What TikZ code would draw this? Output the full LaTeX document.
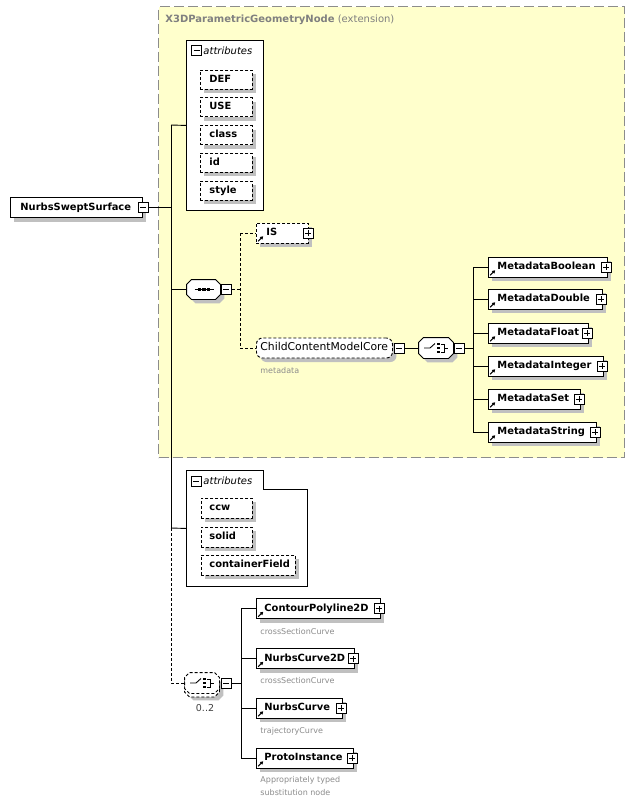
\documentclass[tikz,border=0pt]{standalone}
\usepackage{fontspec}
\setmainfont{DejaVu Sans}
\usetikzlibrary{shadows,arrows.meta}
\definecolor{shadowgray}{HTML}{C0C0C0}
\definecolor{extyellow}{HTML}{FFFFCC}
\definecolor{extborder}{HTML}{8C8C8C}
\definecolor{labelgray}{HTML}{8C8C8C}
\definecolor{titlegray}{HTML}{808080}
\newcommand\refmark[1]{\draw[-{Triangle[length=3pt,width=3.4pt]},line width=1.1pt] ([xshift=2.2pt,yshift=2.2pt]#1.south west) -- ++(5pt,5pt);}
% chamfered outline around a named node, shifted by (#3,#4)
\newcommand\modeloutline[4]{\path[#1] ([xshift=#3+5pt,yshift=#4]#2.north west) -- ([xshift=#3-5pt,yshift=#4]#2.north east) -- ([xshift=#3,yshift=#4-5pt]#2.north east) -- ([xshift=#3,yshift=#4+5pt]#2.south east) -- ([xshift=#3-5pt,yshift=#4]#2.south east) -- ([xshift=#3+5pt,yshift=#4]#2.south west) -- ([xshift=#3,yshift=#4+5pt]#2.south west) -- ([xshift=#3,yshift=#4-5pt]#2.north west) -- cycle;}
\newcommand\seqglyph[1]{%
  \draw[line width=0.9pt] ([xshift=-9pt]#1.center) -- ([xshift=10pt]#1.center);
  \foreach \dx in {-4,0.5,5}{\fill ([xshift=\dx pt]#1.center) +(-1.6pt,-1.6pt) rectangle +(1.6pt,1.6pt);}}
\newcommand\choiceglyph[1]{%
  \draw[line width=0.9pt] ([xshift=-12pt]#1.center) -- ([xshift=-6pt]#1.center) -- ([xshift=-1pt,yshift=4.5pt]#1.center);
  \foreach \dy in {-4,0,4}{\fill ([xshift=2.5pt,yshift=\dy pt]#1.center) +(-1.4pt,-1.4pt) rectangle +(1.4pt,1.4pt);}
  \draw[line width=0.9pt] ([xshift=5pt,yshift=4pt]#1.center) -- ([xshift=8.5pt,yshift=4pt]#1.center) -- ([xshift=8.5pt,yshift=-4pt]#1.center) -- ([xshift=5pt,yshift=-4pt]#1.center);
  \draw[line width=0.9pt] ([xshift=8.5pt]#1.center) -- ([xshift=12pt]#1.center);}
\begin{document}
\begin{tikzpicture}[x=1pt,y=-1pt,line width=0.9pt,
 shad/.style={drop shadow={shadow xshift=4pt,shadow yshift=-4pt,fill=shadowgray,opacity=1}},
 box/.style={draw,fill=white,shad,anchor=west,minimum height=20pt,inner xsep=0pt,inner ysep=0pt,
   text height=7.6pt,text depth=2.4pt,align=left,text width=#1,font=\fontsize{9.9}{12}\selectfont\bfseries},
 optbox/.style={box=#1,dash pattern=on 3pt off 2pt},
 pmbox/.style={draw,fill=white,minimum size=10pt,inner sep=0pt,line width=0.8pt},
 minus/.style={pmbox,path picture={\draw[line width=0.8pt] ([xshift=2pt]path picture bounding box.west) -- ([xshift=-2pt]path picture bounding box.east);}},
 plus/.style={pmbox,path picture={\draw[line width=0.8pt] ([xshift=2pt]path picture bounding box.west) -- ([xshift=-2pt]path picture bounding box.east) ([yshift=2pt]path picture bounding box.south) -- ([yshift=-2pt]path picture bounding box.north);}},
 modelnode/.style={minimum width=34pt,minimum height=20pt,inner sep=0pt},
 lbl/.style={anchor=west,inner sep=0pt,text=labelgray,font=\fontsize{8}{13}\selectfont,align=left},
 attrtitle/.style={anchor=west,inner sep=0pt,font=\fontsize{10}{12}\selectfont\itshape},
 dconn/.style={dash pattern=on 3pt off 2pt}
]
\useasboundingbox (0,0) rectangle (635,804);
\fill[white] (0,0) rectangle (635,804);

% extension box
\node[draw=extborder,fill=extyellow,line width=1.1pt,dash pattern=on 10pt off 4pt,anchor=north west,minimum width=466pt,minimum height=451pt,inner sep=0pt] (ext) at (158,6) {};
\node[anchor=west,inner sep=0pt,text=titlegray,font=\fontsize{10}{12}\selectfont] (title) at (165,20) {\textbf{X3DParametricGeometryNode} (extension)};

% main element
\node[box=132pt] (main) at (10,207.5) {\hspace*{10pt}NurbsSweptSurface};
\node[minus] (mainm) at ([xshift=0.5pt]main.east) {};

% first attributes group
\node[draw,fill=white,anchor=north west,minimum width=77pt,minimum height=170pt,inner sep=0pt] (attrA) at (186,40) {};
\node[minus] (attrAm) at (196.5,50.5) {};
\node[attrtitle] (attrAt) at (203,50.5) {attributes};
\foreach \n/\t [count=\i from 0] in {def/DEF,use/USE,cls/class,idn/id,sty/style}{
  \node[optbox=52pt,minimum height=19pt] (\n) at (200,79.5+27.75*\i) {\hspace*{9pt}\t};
}

% sequence
\node[modelnode,minimum width=33pt,minimum height=19pt] (seq) at (203.5,289.5) {};
\modeloutline{fill=shadowgray}{seq}{4pt}{-4pt}
\modeloutline{draw,fill=white}{seq}{0pt}{0pt}
\seqglyph{seq}
\node[minus] (seqm) at ([xshift=6pt]seq.east) {};

% IS and ChildContentModelCore
\node[optbox=52pt] (IS) at (256,233) {\hspace*{10pt}IS};
\refmark{IS}
\node[plus] (ISp) at ([xshift=-1pt]IS.east) {};
\node[optbox=136pt,rounded corners=6pt,font=\fontsize{10.8}{12}\selectfont] (ccmc) at (256,348) {\hspace*{4pt}ChildContentModelCore};
\node[minus] (ccmcm) at ([xshift=6pt]ccmc.east) {};
\node[lbl] (metalbl) at (260,371) {metadata};

% choice for metadata
\node[modelnode] (ch1) at (436,348) {};
\modeloutline{fill=shadowgray}{ch1}{4pt}{-4pt}
\modeloutline{draw,fill=white}{ch1}{0pt}{0pt}
\choiceglyph{ch1}
\node[minus] (ch1m) at ([xshift=5.5pt]ch1.east) {};

\foreach \n/\t/\w/\y in {mb/MetadataBoolean/119/267,md/MetadataDouble/114/299,mf/MetadataFloat/100/333,mi/MetadataInteger/115/366,ms/MetadataSet/92/399,mst/MetadataString/108/432}{
  \node[box=\w pt] (\n) at (488,\y) {\hspace*{9pt}\t};
  \refmark{\n}
  \node[plus] (\n p) at ([xshift=-2pt]\n.east) {};
}

% second attributes group
\node[anchor=north west,minimum width=121pt,minimum height=116pt,inner sep=0pt] (attrB) at (186,470) {};
\draw[fill=white] (attrB.north west) -- ([xshift=77pt]attrB.north west) |- ([yshift=-19pt]attrB.north east) -- (attrB.south east) -- (attrB.south west) -- cycle;
\node[minus] (attrBm) at (196,481) {};
\node[attrtitle] (attrBt) at (203,481) {attributes};
\node[optbox=51pt] (ccw) at (201,508) {\hspace*{8pt}ccw};
\node[optbox=51pt] (solid) at (201,537) {\hspace*{8pt}solid};
\node[optbox=94pt] (cf) at (201,565) {\hspace*{8pt}containerField};

% bottom choice 0..2 (stacked, optional)
\node[modelnode] (ch2) at (202,683) {};
\modeloutline{fill=shadowgray}{ch2}{4pt}{-7pt}
\modeloutline{draw,fill=white,dash pattern=on 3pt off 2pt}{ch2}{0pt}{-3.5pt}
\modeloutline{draw,fill=white,dash pattern=on 3pt off 2pt}{ch2}{0pt}{0pt}
\choiceglyph{ch2}
\node[minus] (ch2m) at ([xshift=7pt]ch2.east) {};
\node[inner sep=0pt,text=black!75,font=\fontsize{9.5}{11}\selectfont] (occ) at (205,708) {0..2};

\foreach \n/\t/\w/\y in {cp/ContourPolyline2D/124/608.5,nc2/NurbsCurve2D/98/658.5,nc/NurbsCurve/86/708,pi/ProtoInstance/97/758}{
  \node[box=\w pt] (\n) at (256,\y) {\hspace*{8pt}\t};
  \refmark{\n}
  \node[plus] (\n p) at ([xshift=-2pt]\n.east) {};
}
\node[lbl] (cplbl) at (260,632) {crossSectionCurve};
\node[lbl] (nc2lbl) at (260,681) {crossSectionCurve};
\node[lbl] (nclbl) at (260,731) {trajectoryCurve};
\node[lbl,anchor=north west] (pilbl) at (260,775.5) {Appropriately typed\\substitution node};

% connectors
\coordinate (jtop) at (171,125);
\coordinate (jbot) at (171,528);
\draw (mainm.east) -- (mainm.east -| jtop);
\draw (jtop) -- (jbot);
\draw (jtop) -- (attrA.west);
\draw (seq.west -| jtop) -- (seq.west);
\draw (jbot) -- (attrB.west);
\draw[dconn] (jbot) |- (ch2.west);

\coordinate (sv) at (240,233);
\draw[dconn] (seqm.east) -- (seqm.east -| sv);
\draw[dconn] (IS.west -| sv) -- (ccmc.west -| sv);
\draw[dconn] (IS.west -| sv) -- (IS.west);
\draw[dconn] (ccmc.west -| sv) -- (ccmc.west);
\draw (ccmcm.east) -- (ch1.west);

\coordinate (mv) at (473,267);
\draw (ch1m.east) -- (ch1m.east -| mv);
\draw (mb.west -| mv) -- (mst.west -| mv);
\foreach \n in {mb,md,mf,mi,ms,mst}{\draw (\n.west -| mv) -- (\n.west);}

\coordinate (bv) at (241,608);
\draw (ch2m.east) -- (ch2m.east -| bv);
\draw (cp.west -| bv) -- (pi.west -| bv);
\foreach \n in {cp,nc2,nc,pi}{\draw (\n.west -| bv) -- (\n.west);}
\end{tikzpicture}
\end{document}
